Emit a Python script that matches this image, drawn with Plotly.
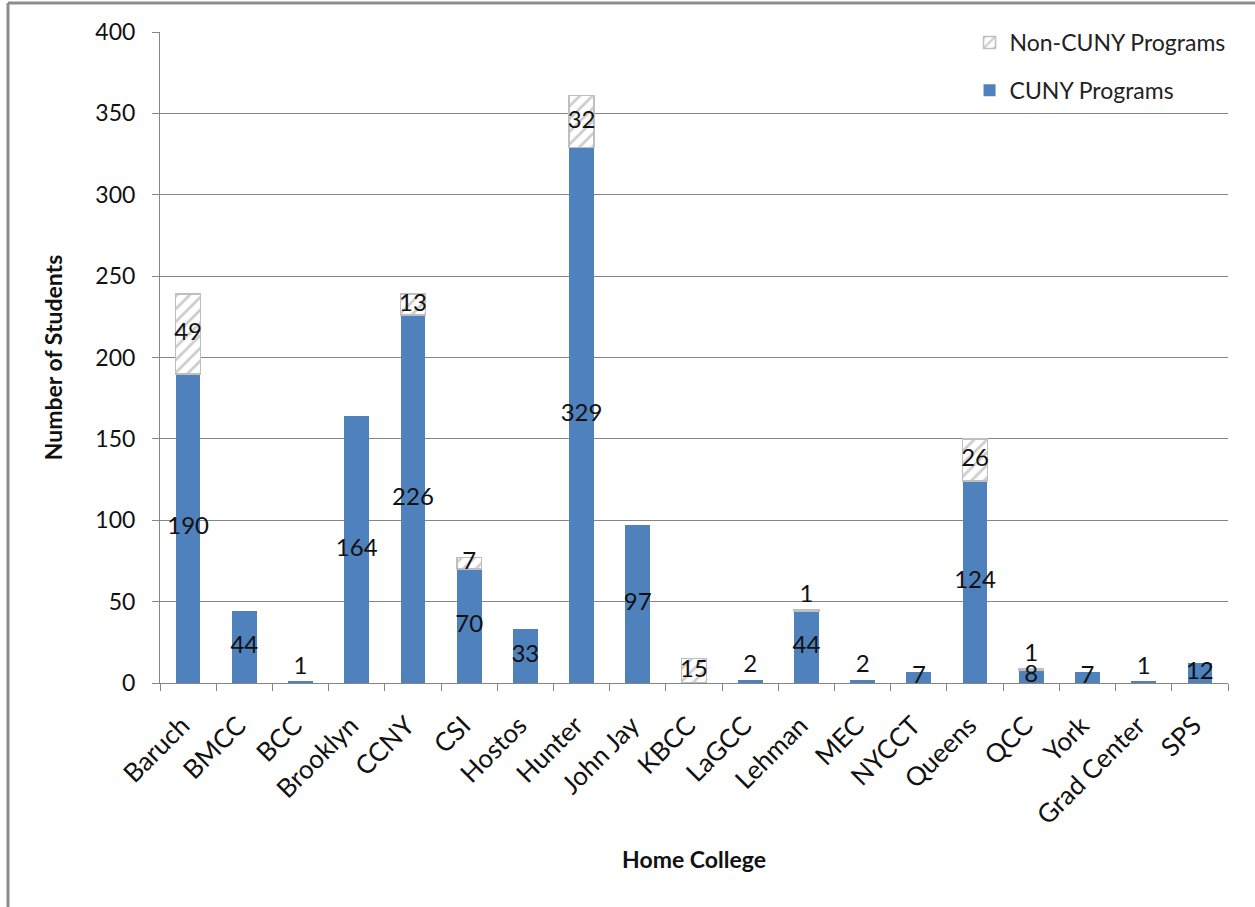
import plotly.graph_objects as go

colleges = ["Baruch", "BMCC", "BCC", "Brooklyn", "CCNY", "CSI", "Hostos", "Hunter",
            "John Jay", "KBCC", "LaGCC", "Lehman", "MEC", "NYCCT", "Queens", "QCC",
            "York", "Grad Center", "SPS"]
cuny = [190, 44, 1, 164, 226, 70, 33, 329, 97, 0, 2, 44, 2, 7, 124, 8, 7, 1, 12]
non_cuny = [49, 0, 0, 0, 13, 7, 0, 32, 0, 15, 0, 1, 0, 0, 26, 1, 0, 0, 0]

y_ticks = [0, 50, 100, 150, 200, 250, 300, 350, 400]

BLUE = "#4f81bd"
GRAY = "#9a9a9a"
FONT = "Lato, Carlito, Calibri, sans-serif"

fig = go.Figure()
fig.add_trace(go.Bar(
    x=colleges, y=[v if v else None for v in cuny], name="CUNY Programs", legendgroup="a",
    legendrank=2,
    marker=dict(color=BLUE, line=dict(width=0)),
))
fig.add_trace(go.Bar(
    x=colleges, y=[v if v else None for v in non_cuny], base=cuny,
    name="Non-CUNY Programs", legendgroup="b", legendrank=1,
    marker=dict(color="white", line=dict(color="#bfbfbf", width=1.5),
                pattern=dict(shape="/", fgcolor=GRAY, bgcolor="white", size=9, solidity=0.3)),
))


def label_pos(base, v):
    if v <= 2:
        return base + v + 8.5
    return base + v / 2


lx, ly, lt = [], [], []
for c, a, b in zip(colleges, cuny, non_cuny):
    if a > 0:
        lx.append(c); ly.append(label_pos(0, a)); lt.append(str(a))
    if b > 0:
        lx.append(c); ly.append(label_pos(a, b)); lt.append(str(b))

fig.add_trace(go.Scatter(
    x=lx, y=ly, text=lt, mode="text", showlegend=False, hoverinfo="skip",
    textfont=dict(family=FONT, size=24, color="#111111"), textposition="middle center",
    cliponaxis=False,
))

# outer frame (left and top edges)
L, R, T, B = 160, 27, 32, 224
W, H = 1255 - L - R, 907 - T - B
fx = (8 - L) / W
fy_top = (H - (3 - T)) / H
fy_bot = -(B + 10) / H
fig.add_shape(type="line", xref="paper", yref="paper", x0=fx, x1=fx, y0=fy_bot, y1=fy_top,
              line=dict(color="#8c8c8c", width=3))
fig.add_shape(type="line", xref="paper", yref="paper", x0=fx, x1=(1260 - L) / W, y0=fy_top, y1=fy_top,
              line=dict(color="#8c8c8c", width=3))

fig.update_layout(
    width=1255, height=907,
    margin=dict(l=L, r=R, t=T, b=B),
    paper_bgcolor="white", plot_bgcolor="white",
    barmode="stack", bargap=0.56,
    font=dict(family=FONT, size=23, color="#111111"),
    showlegend=True,
    legend=dict(x=0.758, y=1.017, xanchor="left", yanchor="top", traceorder="grouped",
                tracegroupgap=15, font=dict(size=23, family=FONT, color="#222222"),
                bgcolor="rgba(255,255,255,0)", itemwidth=30),
    xaxis=dict(
        type="category", range=[-0.5, len(colleges) - 0.5],
        tickangle=-45, ticks="outside", ticklen=7, tickcolor="#868686",
        tickson="boundaries", showline=True, linecolor="#868686", linewidth=1,
        ticklabelstandoff=16, ticklabelshift=-6,
        showgrid=False, tickfont=dict(size=26, family=FONT),
        title=dict(text="<b>Home College</b>", font=dict(size=23, family=FONT), standoff=22),
    ),
    yaxis=dict(
        range=[0, 400], tickvals=y_ticks, ticks="outside", ticklen=7, tickcolor="#868686",
        showline=True, linecolor="#868686", linewidth=1, ticklabelstandoff=12,
        showgrid=True, gridcolor="#868686", gridwidth=1, zeroline=False,
        tickfont=dict(size=23, family=FONT),
        title=dict(text="<b>Number of Students</b>", font=dict(size=23, family=FONT), standoff=26),
    ),
)

fig.write_html("out.html")
